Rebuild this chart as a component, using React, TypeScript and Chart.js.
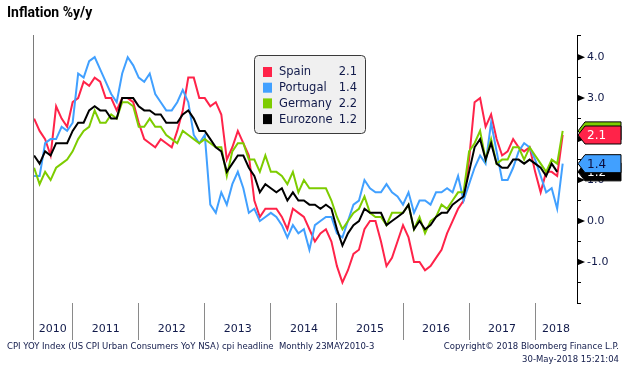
import React, { useEffect, useRef } from 'react';
import { Chart, registerables } from 'chart.js';

Chart.register(...registerables);

// Monthly data, first point = May 2010 (plotted at month end)
const firstYear = 2010;
const firstMonth = 5;
const yearLabels = ['2010', '2011', '2012', '2013', '2014', '2015', '2016', '2017', '2018'];

const seriesNames = ['Spain', 'Portugal', 'Germany', 'Eurozone'];
const seriesColors = ['#ff2349', '#41a0ff', '#7dcc00', '#000000'];
const boxTextColors = ['#ffffff', '#0d0d3b', '#0d0d3b', '#ffffff'];

const spain = [
  2.5, 2.2, 2.0, 1.6, 2.8, 2.5, 2.3, 2.9,
  3.0, 3.4, 3.3, 3.5, 3.4, 3.0, 3.0, 2.7, 3.0, 3.0, 2.9, 2.4,
  2.0, 1.9, 1.8, 2.0, 1.9, 1.8, 2.2, 2.7, 3.5, 3.5, 3.0, 3.0,
  2.8, 2.9, 2.6, 1.5, 1.8, 2.2, 1.9, 1.6, 0.5, 0.1, 0.3, 0.3,
  0.3, 0.1, -0.2, 0.3, 0.2, 0.1, -0.2, -0.5, -0.3, -0.2, -0.5, -1.1,
  -1.5, -1.2, -0.8, -0.7, -0.2, 0.0, 0.0, -0.5, -1.1, -0.9, -0.5, -0.1,
  -0.4, -1.0, -1.0, -1.2, -1.1, -0.9, -0.7, -0.3, 0.0, 0.3, 0.5, 1.5,
  2.9, 3.0, 2.3, 2.6, 2.0, 1.6, 1.7, 2.0, 1.8, 1.7, 1.8, 1.2,
  0.7, 1.2, 1.2, 1.1, 2.1,
];

const portugal = [
  1.1, 1.1, 1.9, 2.0, 2.0, 2.3, 2.2, 2.4,
  3.6, 3.5, 3.9, 4.0, 3.7, 3.4, 3.1, 2.9, 3.6, 4.0, 3.8, 3.5,
  3.4, 3.6, 3.1, 2.9, 2.7, 2.7, 2.9, 3.2, 2.9, 2.1, 1.9, 2.1,
  0.4, 0.2, 0.7, 0.4, 0.9, 1.2, 0.8, 0.2, 0.3, 0.0, 0.1, 0.2,
  0.1, -0.1, -0.4, -0.1, -0.3, -0.2, -0.7, -0.1, 0.0, 0.1, 0.1, -0.3,
  -0.4, 0.0, 0.4, 0.5, 1.0, 0.8, 0.7, 0.7, 0.9, 0.7, 0.6, 0.4,
  0.7, 0.2, 0.5, 0.5, 0.4, 0.7, 0.7, 0.8, 0.7, 1.1, 0.5, 0.9,
  1.3, 1.6, 1.4, 2.4, 1.7, 1.0, 1.0, 1.3, 1.7, 1.9, 1.8, 1.5,
  1.1, 0.7, 0.8, 0.3, 1.4,
];

const germany = [
  1.3, 0.9, 1.2, 1.0, 1.3, 1.4, 1.5, 1.7,
  2.0, 2.2, 2.3, 2.7, 2.4, 2.4, 2.6, 2.5, 2.9, 2.9, 2.8, 2.3,
  2.3, 2.5, 2.3, 2.3, 2.1, 2.0, 1.9, 2.2, 2.1, 2.0, 1.9, 2.0,
  1.9, 1.8, 1.8, 1.1, 1.7, 1.9, 1.9, 1.5, 1.5, 1.2, 1.6, 1.2,
  1.2, 1.1, 0.9, 1.2, 0.7, 1.0, 0.8, 0.8, 0.8, 0.8, 0.5, 0.1,
  -0.2, 0.0, 0.2, 0.3, 0.6, 0.2, 0.1, 0.1, -0.1, 0.2, 0.2, 0.2,
  0.4, -0.2, 0.1, -0.3, 0.0, 0.1, 0.4, 0.3, 0.5, 0.7, 0.7, 1.7,
  1.9, 2.2, 1.5, 2.0, 1.4, 1.5, 1.5, 1.8, 1.8, 1.5, 1.8, 1.6,
  1.4, 1.2, 1.5, 1.4, 2.2,
];

const eurozone = [
  1.6, 1.4, 1.7, 1.6, 1.9, 1.9, 1.9, 2.2,
  2.4, 2.4, 2.7, 2.8, 2.7, 2.7, 2.5, 2.5, 3.0, 3.0, 3.0, 2.8,
  2.7, 2.7, 2.6, 2.6, 2.4, 2.4, 2.4, 2.6, 2.7, 2.5, 2.2, 2.2,
  2.0, 1.8, 1.7, 1.2, 1.4, 1.6, 1.6, 1.3, 1.1, 0.7, 0.9, 0.8,
  0.7, 0.8, 0.5, 0.7, 0.5, 0.5, 0.4, 0.4, 0.3, 0.4, 0.3, -0.2,
  -0.6, -0.3, -0.1, 0.0, 0.3, 0.2, 0.2, 0.2, -0.1, 0.0, 0.1, 0.2,
  0.4, -0.2, 0.0, -0.2, -0.1, 0.1, 0.2, 0.2, 0.4, 0.5, 0.6, 1.2,
  1.8, 2.0, 1.5, 1.9, 1.4, 1.3, 1.3, 1.5, 1.5, 1.4, 1.5, 1.4,
  1.3, 1.1, 1.4, 1.2,
];

const seriesValues = [spain, portugal, germany, eurozone];

const X_MIN = 4.8;
const X_MAX = 103.6;
const Y_MIN = -2.0;
const Y_MAX = 4.54;
const yLabelValues = [-1, 0, 1, 2, 3, 4];

const W = 628;
const H = 370;
const FONT = '"DejaVu Sans", Verdana, sans-serif';
const NAVY = '#111a4a';

const toXY = (arr: number[]) => arr.map((v, i) => ({ x: firstMonth + i, y: v }));

const decorPlugin = {
  id: 'bbgDecor',
  afterDraw(chart: any) {
    const ctx = chart.ctx;
    const area = chart.chartArea;
    const ys = chart.scales.y;
    ctx.save();

    // left frame line
    ctx.strokeStyle = '#7a7a7a';
    ctx.lineWidth = 1;
    ctx.beginPath();
    ctx.moveTo(Math.round(area.left) + 0.5, area.top);
    ctx.lineTo(Math.round(area.left) + 0.5, area.bottom + 37);
    ctx.stroke();

    // triangular major tick marks on the right axis
    ctx.fillStyle = '#000';
    yLabelValues.forEach((v) => {
      const py = ys.getPixelForValue(v);
      ctx.beginPath();
      ctx.moveTo(area.right, py - 3.5);
      ctx.lineTo(area.right + 8, py);
      ctx.lineTo(area.right, py + 3.5);
      ctx.closePath();
      ctx.fill();
    });

    // last-value tags on the right axis
    const lastVals = seriesValues.map((a) => a[a.length - 1]);
    for (let s = seriesValues.length - 1; s >= 0; s--) {
      const py = ys.getPixelForValue(lastVals[s]);
      const x0 = area.right + 1;
      ctx.beginPath();
      ctx.moveTo(x0, py);
      ctx.lineTo(x0 + 7, py - 9);
      ctx.lineTo(621, py - 9);
      ctx.lineTo(621, py + 9);
      ctx.lineTo(x0 + 7, py + 9);
      ctx.closePath();
      ctx.fillStyle = seriesColors[s];
      ctx.fill();
      ctx.strokeStyle = '#000';
      ctx.lineWidth = 1;
      ctx.stroke();
      ctx.fillStyle = boxTextColors[s];
      ctx.font = `12px ${FONT}`;
      ctx.textAlign = 'left';
      ctx.textBaseline = 'middle';
      ctx.fillText(lastVals[s].toFixed(1), x0 + 9, py + 1);
    }

    // legend box
    const lx = 254, ly = 55, lw = 111, lh = 78;
    ctx.beginPath();
    if (ctx.roundRect) ctx.roundRect(lx + 0.5, ly + 0.5, lw, lh, 4);
    else ctx.rect(lx + 0.5, ly + 0.5, lw, lh);
    ctx.fillStyle = '#f0f0f0';
    ctx.fill();
    ctx.strokeStyle = '#3a3a3a';
    ctx.lineWidth = 1;
    ctx.stroke();
    ctx.font = `11.5px ${FONT}`;
    ctx.textBaseline = 'middle';
    seriesNames.forEach((name, s) => {
      const cy = 72 + s * 15.7;
      ctx.fillStyle = seriesColors[s];
      ctx.fillRect(263, cy - 5, 9, 10);
      ctx.fillStyle = NAVY;
      ctx.textAlign = 'left';
      ctx.fillText(name, 279, cy + 0.5);
      ctx.textAlign = 'right';
      ctx.fillText(lastVals[s].toFixed(1), 357, cy + 0.5);
    });

    ctx.restore();
  },
};

export default function App() {
  const canvasRef = useRef<HTMLCanvasElement | null>(null);

  useEffect(() => {
    const canvas = canvasRef.current;
    if (!canvas) return;

    const datasets = seriesNames.map((name, s) => ({
      label: name,
      data: toXY(seriesValues[s]),
      borderColor: seriesColors[s],
      backgroundColor: seriesColors[s],
      borderWidth: 2,
      pointRadius: 0,
      tension: 0,
      fill: false,
      order: seriesNames.length - 1 - s,
    }));

    const chart = new Chart(canvas, {
      type: 'line',
      data: { datasets },
      options: {
        animation: false,
        responsive: false,
        devicePixelRatio: 1,
        layout: { padding: { left: 33, top: 35, right: 0, bottom: 0 } },
        plugins: { legend: { display: false }, tooltip: { enabled: false } },
        scales: {
          x: {
            type: 'linear',
            min: X_MIN,
            max: X_MAX,
            afterBuildTicks: (scale: any) => {
              const ticks: any[] = [];
              yearLabels.forEach((lbl, k) => {
                const start = k * 12;
                const end = start + 12;
                if (k > 0) ticks.push({ value: start, lbl: '' });
                const a = Math.max(start, X_MIN);
                const b = Math.min(end, X_MAX);
                ticks.push({ value: (a + b) / 2, lbl });
              });
              scale.ticks = ticks;
            },
            afterFit: (scale: any) => {
              scale.height = H - 303;
            },
            border: { display: false },
            grid: {
              drawOnChartArea: false,
              drawTicks: true,
              tickLength: 37,
              color: (c: any) => (c.tick && c.tick.lbl ? 'rgba(0,0,0,0)' : '#8a8a8a'),
              lineWidth: 1,
            },
            ticks: {
              autoSkip: false,
              maxRotation: 0,
              padding: -17,
              color: NAVY,
              font: { family: FONT, size: 11 },
              callback: (_v: any, i: number, ticks: any[]) => ticks[i].lbl,
            },
          },
          y: {
            type: 'linear',
            position: 'right',
            min: Y_MIN,
            max: Y_MAX,
            afterFit: (scale: any) => {
              scale.width = W - 577;
            },
            border: { display: true, color: '#000', width: 1 },
            grid: {
              drawOnChartArea: false,
              drawTicks: true,
              tickLength: 4,
              color: '#000',
            },
            ticks: {
              stepSize: 0.5,
              padding: 6,
              color: NAVY,
              font: { family: FONT, size: 11 },
              callback: (v: any) => {
                const n = Number(v);
                return yLabelValues.includes(n) ? n.toFixed(1) : '';
              },
            },
          },
        },
      },
      plugins: [decorPlugin],
    } as any);

    return () => chart.destroy();
  }, []);

  const footStyle: React.CSSProperties = {
    position: 'absolute',
    fontFamily: FONT,
    fontSize: 8.5,
    color: NAVY,
    whiteSpace: 'nowrap',
    lineHeight: '11px',
  };

  return (
    <div style={{ position: 'fixed', left: 0, top: 0, width: W, height: H, background: '#fff', overflow: 'hidden' }}>
      <canvas ref={canvasRef} width={W} height={H} style={{ position: 'absolute', left: 0, top: 0, width: W, height: H }} />
      <div style={{ position: 'absolute', left: 7, top: 3, fontFamily: 'Roboto, sans-serif', fontWeight: 700, fontSize: 14, color: '#000', lineHeight: '18px', whiteSpace: 'nowrap' }}>
        Inflation %y/y
      </div>
      <div style={{ ...footStyle, left: 7, top: 341 }}>
        CPI YOY Index (US CPI Urban Consumers YoY NSA) cpi headline&nbsp;&nbsp;Monthly 23MAY2010-3
      </div>
      <div style={{ ...footStyle, right: 9, top: 341, textAlign: 'right' }}>Copyright© 2018 Bloomberg Finance L.P.</div>
      <div style={{ ...footStyle, right: 9, top: 354, textAlign: 'right' }}>30-May-2018 15:21:04</div>
    </div>
  );
}
